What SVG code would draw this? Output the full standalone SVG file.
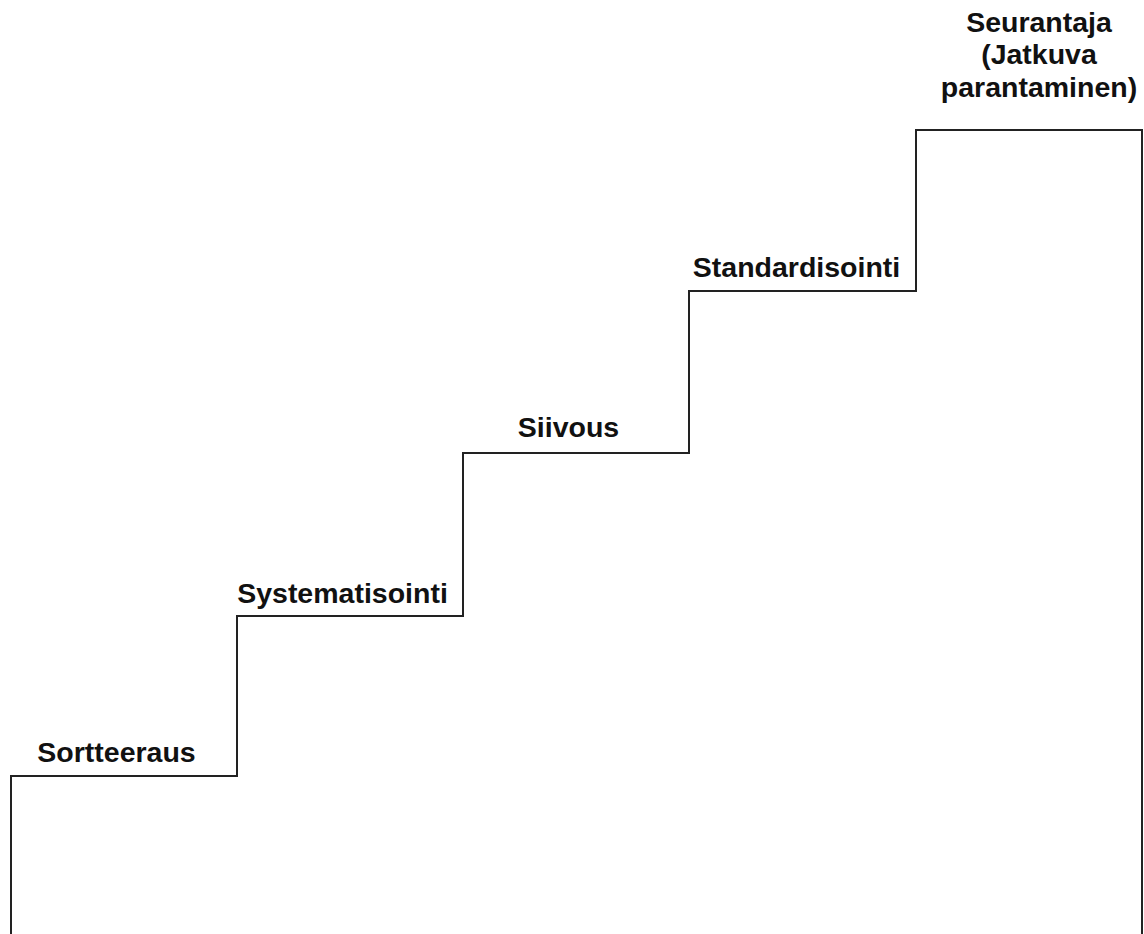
<svg xmlns="http://www.w3.org/2000/svg" width="1144" height="934" viewBox="0 0 1144 934">
  <style>
    .step { fill: none; stroke: #222; stroke-width: 2; }
    .label { font-family: "Liberation Sans", Arial, sans-serif; font-weight: bold; font-size: 28.5px; fill: #111; text-anchor: middle; }
  </style>
  <rect width="1144" height="934" fill="#fff"/>
  <g id="connectors">
    <!-- staircase outline, open at the bottom -->
    <polyline class="step" points="11,934 11,776 237,776 237,616 463,616 463,453 689,453 689,291 916,291 916,130 1142,130 1142,934"/>
  </g>
  <g id="step1"><text class="label" x="116.5" y="762">Sortteeraus</text></g>
  <g id="step2"><text class="label" x="342.5" y="603">Systematisointi</text></g>
  <g id="step3"><text class="label" x="568.5" y="437">Siivous</text></g>
  <g id="step4"><text class="label" x="796.5" y="277">Standardisointi</text></g>
  <g id="step5">
    <text class="label" x="1039" y="32">Seurantaja</text>
    <text class="label" x="1039" y="64">(Jatkuva</text>
    <text class="label" x="1039" y="97">parantaminen)</text>
  </g>
</svg>
